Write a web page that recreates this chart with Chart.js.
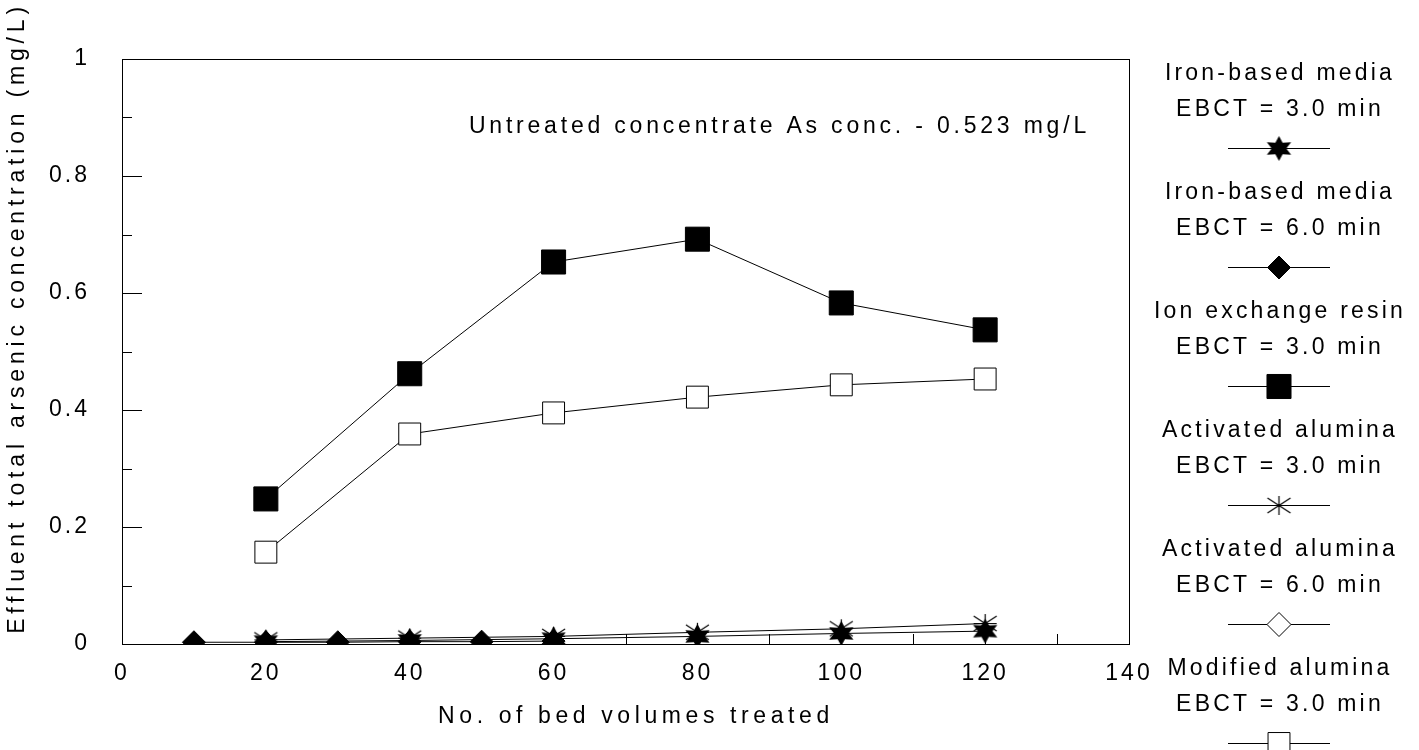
<!DOCTYPE html>
<html>
<head>
<meta charset="utf-8">
<script src="https://cdn.jsdelivr.net/npm/chart.js@4.4.1/dist/chart.umd.min.js"></script>
<style>
  html, body { margin: 0; padding: 0; background: #fff; }
  #wrap { width: 1419px; height: 750px; }
</style>
</head>
<body>
<div id="wrap"><canvas id="arsenicChart"></canvas></div>
<script>
// bed volumes treated (x) and effluent arsenic (mg/L) per media
const bedVolumes = [20, 40, 60, 80, 100, 120];
const ironBed6Volumes = [10, 20, 30, 40, 50, 60];

const ironMedia3 = [0.004, 0.006, 0.009, 0.013, 0.018, 0.022];
const ironMedia6 = [0.003, 0.003, 0.003, 0.004, 0.004, 0.005];
const ionResin3 = [0.248, 0.462, 0.653, 0.692, 0.583, 0.537];
const activatedAlumina3 = [0.007, 0.010, 0.013, 0.020, 0.026, 0.035];
const activatedAlumina6 = [];
const modifiedAlumina3 = [0.157, 0.359, 0.395, 0.422, 0.443, 0.453];

const xTicks = [0, 20, 40, 60, 80, 100, 120, 140];
const yTicks = [0, 0.2, 0.4, 0.6, 0.8, 1];

const seriesNames = [
    ['Iron-based media', 'EBCT = 3.0 min'],
    ['Iron-based media', 'EBCT = 6.0 min'],
    ['Ion exchange resin', 'EBCT = 3.0 min'],
    ['Activated alumina', 'EBCT = 3.0 min'],
    ['Activated alumina', 'EBCT = 6.0 min'],
    ['Modified alumina', 'EBCT = 3.0 min']
];
const noteText = 'Untreated concentrate As conc. - 0.523 mg/L';
const xTitle = 'No. of bed volumes treated';
const yTitle = 'Effluent total arsenic concentration (mg/L)';

const FONT = '"Liberation Sans", Arial, sans-serif';

function points(xs, ys) {
    return ys.map((y, i) => ({ x: xs[i], y: y }));
}

// filled six point star marker
function starMarker() {
    const c = document.createElement('canvas');
    c.width = 29; c.height = 27;
    const g = c.getContext('2d');
    g.translate(14.5, 13.5);
    g.beginPath();
    for (let k = 0; k < 12; k++) {
        const a = -Math.PI / 2 + k * Math.PI / 6;
        const r = k % 2 ? 6.5 : 12.5;
        const px = Math.cos(a) * r * 1.12, py = Math.sin(a) * r;
        k ? g.lineTo(px, py) : g.moveTo(px, py);
    }
    g.closePath();
    g.fillStyle = '#000';
    g.fill();
    return c;
}

// asterisk marker
function asteriskMarker() {
    const c = document.createElement('canvas');
    c.width = 27; c.height = 21;
    const g = c.getContext('2d');
    g.translate(13.5, 10.5);
    g.strokeStyle = '#000';
    g.lineWidth = 1.2;
    g.beginPath();
    g.moveTo(0, -9.5); g.lineTo(0, 9.5);
    g.moveTo(-11.5, -7.5); g.lineTo(11.5, 7.5);
    g.moveTo(-11.5, 7.5); g.lineTo(11.5, -7.5);
    g.moveTo(-11.5, 0); g.lineTo(11.5, 0);
    g.stroke();
    return c;
}

const styles = [
    { pointStyle: starMarker(), pointRadius: 12, fill: '#000' },
    { pointStyle: 'rectRot', pointRadius: 11.5, fill: '#000' },
    { pointStyle: 'rect', pointRadius: 17, fill: '#000' },
    { pointStyle: asteriskMarker(), pointRadius: 12, fill: '#000' },
    { pointStyle: 'rectRot', pointRadius: 12, fill: '#fff' },
    { pointStyle: 'rect', pointRadius: 15.5, fill: '#fff' }
];

const seriesData = [
    points(bedVolumes, ironMedia3),
    points(ironBed6Volumes, ironMedia6),
    points(bedVolumes, ionResin3),
    points(bedVolumes, activatedAlumina3),
    points(bedVolumes, activatedAlumina6),
    points(bedVolumes, modifiedAlumina3)
];

const datasets = seriesData.map((d, i) => ({
    label: seriesNames[i].join(' '),
    data: d,
    borderColor: '#000',
    borderWidth: 1,
    tension: 0,
    fill: false,
    pointStyle: styles[i].pointStyle,
    pointRadius: styles[i].pointRadius,
    pointHoverRadius: styles[i].pointRadius,
    pointBackgroundColor: styles[i].fill,
    pointBorderColor: '#000',
    pointBorderWidth: 1
}));

// letter spaced tick labels
const spacingPlugin = {
    id: 'spacing',
    beforeDraw(chart) {
        chart.ctx.letterSpacing = '3px';
    }
};

// frame, inward ticks, titles, note and legend
const decorPlugin = {
    id: 'decor',
    afterDraw(chart) {
        const ctx = chart.ctx;
        const a = chart.chartArea;
        const xs = chart.scales.x, ys = chart.scales.y;
        ctx.save();
        ctx.strokeStyle = '#000';
        ctx.lineWidth = 1;
        ctx.strokeRect(Math.round(a.left) + 0.5, Math.round(a.top) + 0.5,
            Math.round(a.right - a.left), Math.round(a.bottom - a.top));

        ctx.beginPath();
        for (let v = 1; v < 10; v++) {
            const py = Math.round(ys.getPixelForValue(v / 10)) + 0.5;
            const len = v % 2 ? 10 : 20;
            ctx.moveTo(a.left, py);
            ctx.lineTo(a.left + len, py);
        }
        for (let v = 10; v < 140; v += 10) {
            const px = Math.round(xs.getPixelForValue(v)) + 0.5;
            ctx.moveTo(px, a.bottom);
            ctx.lineTo(px, a.bottom - 10);
        }
        ctx.stroke();

        ctx.fillStyle = '#000';
        ctx.font = '23px ' + FONT;
        ctx.textAlign = 'center';
        ctx.textBaseline = 'middle';

        ctx.letterSpacing = '3.8px';
        ctx.fillText(noteText, xs.getPixelForValue(91.4), ys.getPixelForValue(0.884));

        ctx.letterSpacing = '4.6px';
        ctx.fillText(xTitle, 636, 717);

        ctx.save();
        ctx.translate(18, 318);
        ctx.rotate(-Math.PI / 2);
        ctx.letterSpacing = '4.8px';
        ctx.fillText(yTitle, 0, 0);
        ctx.restore();

        // legend column
        ctx.letterSpacing = '3.2px';
        const cx = 1279;
        chart.data.datasets.forEach((ds, i) => {
            const y0 = 74 + i * 119;
            ctx.fillText(seriesNames[i][0], cx + 1, y0);
            ctx.fillText(seriesNames[i][1], cx + 1, y0 + 36);
            const ym = y0 + 74.5;
            ctx.beginPath();
            ctx.moveTo(1228, ym);
            ctx.lineTo(1330, ym);
            ctx.stroke();
            ctx.fillStyle = ds.pointBackgroundColor;
            ctx.strokeStyle = '#000';
            Chart.helpers.drawPoint(ctx, {
                pointStyle: ds.pointStyle,
                radius: ds.pointRadius,
                borderWidth: 1,
                rotation: 0
            }, cx, ym);
            ctx.fillStyle = '#000';
        });
        ctx.restore();
    }
};

Chart.defaults.font.family = FONT;
Chart.defaults.font.size = 23;
Chart.defaults.color = '#000';

new Chart(document.getElementById('arsenicChart'), {
    type: 'line',
    data: { datasets: datasets },
    options: {
        responsive: true,
        maintainAspectRatio: false,
        animation: false,
        layout: { padding: { top: 59, right: 290, left: 0, bottom: 0 } },
        plugins: {
            legend: { display: false },
            tooltip: { enabled: false }
        },
        scales: {
            x: {
                type: 'linear',
                min: 0,
                max: 140,
                grid: { display: false },
                border: { display: false },
                afterBuildTicks: (scale) => { scale.ticks = xTicks.map(v => ({ value: v })); },
                ticks: { padding: 8, maxRotation: 0 },
                afterFit: (scale) => { scale.height = 106; }
            },
            y: {
                min: 0,
                max: 1,
                grid: { display: false },
                border: { display: false },
                afterBuildTicks: (scale) => { scale.ticks = yTicks.map(v => ({ value: v })); },
                ticks: {
                    padding: 24,
                    callback: (v) => String(Math.round(v * 10) / 10)
                },
                afterFit: (scale) => { scale.width = 122; }
            }
        }
    },
    plugins: [spacingPlugin, decorPlugin]
});
</script>
</body>
</html>
